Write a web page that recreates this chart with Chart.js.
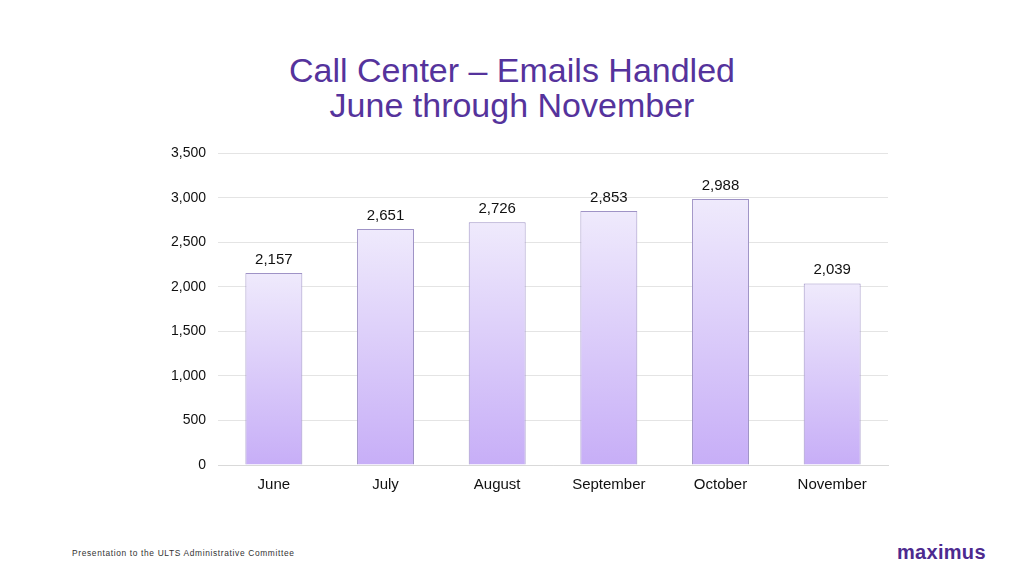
<!DOCTYPE html>
<html>
<head>
<meta charset="utf-8">
<script src="https://cdn.jsdelivr.net/npm/chart.js@4"></script>
<style>
  body { margin: 0; width: 1024px; height: 576px; background: #fff; font-family: "Liberation Sans", Arial, sans-serif; position: relative; overflow: hidden; }
  #title { position: absolute; top: 53px; left: 0; width: 1024px; text-align: center; color: #55339c; font-size: 34px; line-height: 35px; }
  #chartBox { position: absolute; left: 159px; top: 133px; width: 741px; height: 364px; }
  #footer { position: absolute; left: 72px; top: 548px; font-size: 8.4px; letter-spacing: 0.65px; color: #333; }
  #logo { position: absolute; left: 897px; top: 541px; font-size: 20px; font-weight: bold; color: #4d2a8f; letter-spacing: 0.3px; }
</style>
</head>
<body>
<div id="title">Call Center – Emails Handled<br>June through November</div>
<div id="chartBox"><canvas id="emailChart"></canvas></div>
<div id="footer">Presentation to the ULTS Administrative Committee</div>
<div id="logo">maximus</div>
<script>
// Data
const months = ["June", "July", "August", "September", "October", "November"];
const emailsHandled = [2157, 2651, 2726, 2853, 2988, 2039];

// Labels drawn above each bar
const valueLabels = {
    id: "valueLabels",
    afterDatasetsDraw(chart) {
        const ctx = chart.ctx;
        const meta = chart.getDatasetMeta(0);
        ctx.save();
        ctx.font = "15px 'Liberation Sans', Arial, sans-serif";
        ctx.fillStyle = "#111";
        ctx.textAlign = "center";
        ctx.textBaseline = "bottom";
        meta.data.forEach((bar, i) => {
            ctx.fillText(emailsHandled[i].toLocaleString("en-US"), bar.x, bar.y - 6);
        });
        ctx.restore();
    }
};

const ctx = document.getElementById("emailChart").getContext("2d");
new Chart(ctx, {
    type: "bar",
    data: {
        labels: months,
        datasets: [{
            data: emailsHandled,
            backgroundColor: (c) => {
                const chart = c.chart;
                if (!chart.chartArea) return "#d9ccf8";
                const y = chart.scales.y;
                const top = y.getPixelForValue(emailsHandled[c.dataIndex] || 0);
                const base = y.getPixelForValue(0);
                const g = chart.ctx.createLinearGradient(0, top, 0, base);
                g.addColorStop(0, "#efeafc");
                g.addColorStop(1, "#c7aef7");
                return g;
            },
            borderColor: "#9f93c6",
            borderWidth: 1,
            barPercentage: 0.51,
            categoryPercentage: 1
        }]
    },
    options: {
        responsive: true,
        maintainAspectRatio: false,
        animation: false,
        layout: { padding: { top: 10, right: 12 } },
        plugins: { legend: { display: false }, tooltip: { enabled: false } },
        scales: {
            x: {
                grid: { display: false },
                border: { color: "#d9d9d9" },
                ticks: { color: "#111", font: { size: 15, family: "'Liberation Sans', Arial, sans-serif" }, padding: 3 }
            },
            y: {
                min: 0,
                max: 3500,
                ticks: {
                    stepSize: 500,
                    color: "#111",
                    padding: 12,
                    font: { size: 14, family: "'Liberation Sans', Arial, sans-serif" },
                    callback: (v) => v.toLocaleString("en-US")
                },
                grid: { color: "#e4e4e4", drawTicks: false },
                border: { display: false }
            }
        }
    },
    plugins: [valueLabels]
});
</script>
</body>
</html>
